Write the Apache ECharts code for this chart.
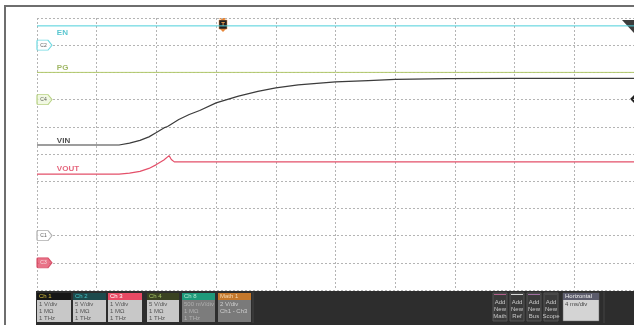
<!DOCTYPE html>
<html>
<head>
<meta charset="utf-8">
<script src="https://cdn.jsdelivr.net/npm/echarts@6/dist/echarts.min.js"></script>
<style>
html, body { margin: 0; padding: 0; background: #fff; }
#scope { width: 634px; height: 325px; }
</style>
</head>
<body>
<div id="scope"></div>
<script>
// time in ms (4 ms/div, 10 div), level in graticule divisions (0 = bottom line)
const enT = [0, 40]
const enV = [9.71, 9.71]
const pgT = [0, 40]
const pgV = [8.0, 8.0]
const vinT = [0, 5.5, 6.2, 6.9, 7.5, 8.0, 8.5, 8.75, 8.85, 9.5, 10.2, 10.9, 12.0, 13.5, 14.8, 16.0, 17.5, 20.0, 22.2, 24.0, 27.5, 32, 40]
const vinV = [5.33, 5.33, 5.40, 5.50, 5.63, 5.79, 5.96, 6.01, 6.08, 6.27, 6.45, 6.60, 6.88, 7.13, 7.30, 7.43, 7.54, 7.65, 7.70, 7.74, 7.77, 7.78, 7.78]
const voutT = [0, 5.5, 6.2, 6.9, 7.5, 8.0, 8.5, 8.85, 9.0, 9.2, 40]
const voutV = [4.26, 4.26, 4.30, 4.36, 4.47, 4.61, 4.78, 4.94, 4.80, 4.71, 4.71]

const traceNames = ['EN', 'PG', 'VIN', 'VOUT']
const traceColors = ['#4ccfda', '#b2c96c', '#3c3c3c', '#e4506a']
const labelColors = ['#2fb8c4', '#8aa640', '#222222', '#e0405c']
const nameT = 1.33
const nameV = [9.47, 8.16, 5.50, 4.45]

const chanMarks = ['C2', 'C4', 'C1', 'C3']
const chanLevels = [9, 7, 2, 1]

const pairs = (t, v) => t.map((x, i) => [x, v[i]])

const myChart = echarts.init(document.getElementById('scope'))

const lineSeries = [[enT, enV], [pgT, pgV], [vinT, vinV], [voutT, voutV]].map((d, i) => ({
  name: traceNames[i],
  type: 'line',
  data: pairs(d[0], d[1]),
  symbol: 'none',
  smooth: false,
  lineStyle: { color: traceColors[i], width: i < 2 ? 1 : 1.2 },
  z: 3
}))

// channel offset flags on the left edge
const flagStyles = [
  { fill: '#ffffff', stroke: '#4ccfda', text: '#333' },
  { fill: '#eef6dc', stroke: '#a8c868', text: '#333' },
  { fill: '#ffffff', stroke: '#999999', text: '#333' },
  { fill: '#e4506a', stroke: '#d03a55', text: '#fff' }
]

// little helper for the badge strip at the bottom
function badge(x, w, head, headBg, headFg, bodyBg, bodyFg, lines) {
  const kids = [
    { type: 'rect', shape: { x: x, y: 293, width: w, height: 7 }, style: { fill: headBg } },
    { type: 'rect', shape: { x: x, y: 300, width: w, height: 22 }, style: { fill: bodyBg } },
    { type: 'text', x: x + 2, y: 296.5, style: { text: head, fill: headFg, font: '6px "Liberation Sans"', verticalAlign: 'middle' } }
  ]
  lines.forEach((s, i) => {
    kids.push({ type: 'text', x: x + 2, y: 304 + i * 7, style: { text: s, fill: bodyFg, font: '6px "Liberation Sans"', verticalAlign: 'middle' } })
  })
  return { type: 'group', children: kids }
}

function addBtn(x, strip, word) {
  const kids = [
    { type: 'rect', shape: { x: x, y: 293, width: 14, height: 28 }, style: { fill: '#3a3a3a', stroke: '#555', lineWidth: 1 } },
    { type: 'rect', shape: { x: x + 1, y: 294, width: 12, height: 1 }, style: { fill: strip } }
  ]
  ;['Add', 'New', word].forEach((s, i) => {
    kids.push({ type: 'text', x: x + 7, y: 302 + i * 7, style: { text: s, fill: '#c8c8c8', font: '6px "Liberation Sans"', align: 'center', verticalAlign: 'middle' } })
  })
  return { type: 'group', children: kids }
}

myChart.setOption({
  animation: false,
  grid: { left: 37, top: 18, width: 601, height: 272 },
  xAxis: {
    type: 'value', min: 0, max: 40, interval: 4,
    axisLine: { show: false }, axisTick: { show: false }, axisLabel: { show: false },
    splitLine: { show: true, lineStyle: { color: '#b4b4b4', type: [2, 2], width: 1 } }
  },
  yAxis: {
    type: 'value', min: 0, max: 10, interval: 1,
    axisLine: { show: false }, axisTick: { show: false }, axisLabel: { show: false },
    splitLine: { show: true, lineStyle: { color: '#b4b4b4', type: [2, 2], width: 1 } }
  },
  series: [
    ...lineSeries,
    {
      name: 'tags',
      type: 'scatter',
      symbolSize: 0,
      data: nameV.map((v, i) => ({
        value: [nameT, v],
        label: { show: true, position: 'right', distance: 0, formatter: traceNames[i], color: labelColors[i], fontSize: 8, fontWeight: 'bold', fontFamily: 'Liberation Sans' }
      })),
      z: 4
    },
    {
      name: 'flags',
      type: 'scatter',
      symbol: 'path://M0,1 Q0,0 1,0 L11,0 L15,5 L11,10 L1,10 Q0,10 0,9 Z',
      symbolSize: [15, 10],
      symbolOffset: [7.5, 0],
      data: chanLevels.map((v, i) => ({
        value: [0, v],
        itemStyle: { color: flagStyles[i].fill, borderColor: flagStyles[i].stroke, borderWidth: 1 },
        label: { show: true, position: 'inside', offset: [-1, 0], formatter: chanMarks[i], color: flagStyles[i].text, fontSize: 5, fontFamily: 'Liberation Sans' }
      })),
      z: 5
    }
  ],
  graphic: [
    // frame
    { type: 'line', shape: { x1: 4, y1: 6, x2: 634, y2: 6 }, style: { stroke: '#6e6e6e', lineWidth: 2 } },
    { type: 'line', shape: { x1: 5, y1: 6, x2: 5, y2: 325 }, style: { stroke: '#6e6e6e', lineWidth: 2 } },
    // trigger position marker
    { type: 'polygon', shape: { points: [[219, 18], [227, 18], [223, 21]] }, style: { fill: '#e8883a' } },
    { type: 'rect', shape: { x: 219, y: 20, width: 8, height: 9 }, style: { fill: '#222', stroke: '#e8883a', lineWidth: 0.5 } },
    { type: 'text', x: 223, y: 24.5, style: { text: 'T', fill: '#f0a050', font: 'bold 6px "Liberation Sans"', align: 'center', verticalAlign: 'middle' } },
    { type: 'polygon', shape: { points: [[220, 29], [226, 29], [223, 32]] }, style: { fill: '#e8883a' } },
    // trigger level + right edge markers
    { type: 'polygon', shape: { points: [[622, 20], [634, 20], [634, 33]] }, style: { fill: '#3c3c3c' } },
    { type: 'polygon', shape: { points: [[630, 99], [634, 95], [634, 103]] }, style: { fill: '#222' } },
    // bottom strip
    { type: 'rect', shape: { x: 36, y: 291, width: 598, height: 34 }, style: { fill: '#2d2d2d' } },
    { type: 'line', shape: { x1: 253, y1: 292, x2: 253, y2: 323 }, style: { stroke: '#444', lineWidth: 1 } },
    { type: 'line', shape: { x1: 604, y1: 292, x2: 604, y2: 323 }, style: { stroke: '#444', lineWidth: 1 } },
    badge(37, 34, 'Ch 1', '#161616', '#d8c040', '#c8c8c8', '#555', ['1 V/div', '1 MΩ', '1 THz']),
    badge(73, 33, 'Ch 2', '#1d4a4c', '#48c4c8', '#c8c8c8', '#555', ['5 V/div', '1 MΩ', '1 THz']),
    badge(108, 34, 'Ch 3', '#e84a64', '#fff', '#c8c8c8', '#555', ['1 V/div', '1 MΩ', '1 THz']),
    badge(147, 32, 'Ch 4', '#3a4222', '#a8c868', '#c8c8c8', '#555', ['5 V/div', '1 MΩ', '1 THz']),
    badge(182, 33, 'Ch 8', '#1e9a7a', '#b0e8d0', '#7c7c7c', '#b0b0b0', ['500 mV/div', '1 MΩ', '1 THz']),
    badge(218, 33, 'Math 1', '#c4782c', '#f4d8b0', '#7a7a7a', '#cfcfcf', ['2 V/div', 'Ch1 - Ch3']),
    addBtn(493, '#b0608c', 'Math'),
    addBtn(510, '#d8d8d8', 'Ref'),
    addBtn(527, '#a070a0', 'Bus'),
    addBtn(544, '#4a4a4a', 'Scope'),
    { type: 'rect', shape: { x: 563, y: 293, width: 36, height: 28 }, style: { fill: '#d4d4d4', stroke: '#666', lineWidth: 0.5 } },
    { type: 'rect', shape: { x: 563, y: 293, width: 36, height: 7 }, style: { fill: '#5c5c6c' } },
    { type: 'text', x: 565, y: 296.5, style: { text: 'Horizontal', fill: '#eee', font: '6px "Liberation Sans"', verticalAlign: 'middle' } },
    { type: 'text', x: 565, y: 304, style: { text: '4 ms/div', fill: '#444', font: '6px "Liberation Sans"', verticalAlign: 'middle' } }
  ]
})
</script>
</body>
</html>
